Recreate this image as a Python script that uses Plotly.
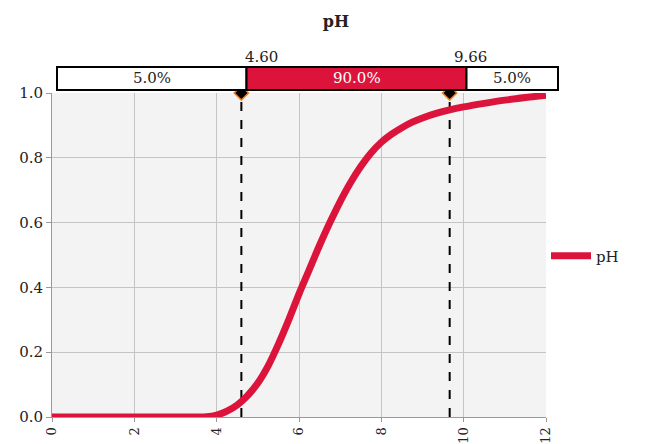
import plotly.graph_objects as go

# ---- data ----
ph_values = [0, 1, 2, 3, 3.75, 4.0, 4.25, 4.5, 4.75, 5.0, 5.25, 5.5, 5.75, 6.0,
             6.25, 6.5, 6.75, 7.0, 7.25, 7.5, 7.75, 8.0, 8.25, 8.5, 8.75, 9.0,
             9.33, 9.66, 10.0, 10.5, 11.0, 11.5, 12.0]
cum_prob = [0, 0, 0, 0, 0.001, 0.006, 0.018, 0.037, 0.066, 0.105, 0.158, 0.225,
            0.30, 0.38, 0.455, 0.53, 0.60, 0.665, 0.723, 0.773, 0.815, 0.848,
            0.873, 0.893, 0.91, 0.923, 0.937, 0.948, 0.957, 0.968, 0.978, 0.986,
            0.993]
delimiters = [4.60, 9.66]
band_pcts = [5.0, 90.0, 5.0]
x_ticks = [0, 2, 4, 6, 8, 10, 12]
y_ticks = [0.0, 0.2, 0.4, 0.6, 0.8, 1.0]

RED = "#DC143C"
FONT = "DejaVu Serif"
TXT = "#222222"

# ---- layout constants (pixels, reference coords) ----
OFF = 8  # page body margin
W, H = 647 - OFF, 444 - OFF
PL, PR, PT, PB = 52, 546, 93, 417
pw, ph = PR - PL, PB - PT
def px(xp):
    return (xp - PL) / pw
def py(yp):
    return (PB - yp) / ph

fig = go.Figure()

for d in delimiters:
    fig.add_trace(go.Scatter(x=[d, d], y=[0, 1], mode="lines",
                             line=dict(color="black", width=2, dash="dash"),
                             showlegend=False, hoverinfo="skip"))

fig.add_trace(go.Scatter(x=ph_values, y=cum_prob, mode="lines", name="pH",
                         line=dict(color=RED, width=7, shape="spline", smoothing=0.8)))

fig.add_trace(go.Scatter(x=delimiters, y=[1, 1], mode="markers",
                         marker=dict(symbol="diamond", size=11, color="black",
                                     line=dict(color="#F08020", width=1.5)),
                         showlegend=False, hoverinfo="skip", cliponaxis=False))

box_x = [57, 246.5, 466.5, 558]
by0, by1 = py(90), py(67)
fills = ["white", RED, "white"]
txtcol = [TXT, "white", TXT]
shapes = []
annotations = []
for i in range(3):
    x0, x1 = px(box_x[i]), px(box_x[i + 1])
    shapes.append(dict(type="rect", xref="paper", yref="paper", x0=x0, x1=x1,
                       y0=by0, y1=by1, fillcolor=fills[i],
                       line=dict(color="black", width=2), layer="above"))
    annotations.append(dict(xref="paper", yref="paper", x=(x0 + x1) / 2,
                            y=(by0 + by1) / 2, text=f"{band_pcts[i]:.1f}%",
                            showarrow=False, xanchor="center", yanchor="middle",
                            font=dict(family=FONT, size=15, color=txtcol[i])))
for d in delimiters:
    annotations.append(dict(xref="x", yref="paper", x=d, y=py(57),
                            text=f"{d:.2f}", showarrow=False, xanchor="left",
                            yanchor="middle", xshift=2,
                            font=dict(family=FONT, size=15, color=TXT)))

fig.update_layout(
    width=W, height=H,
    margin=dict(l=PL - OFF, r=647 - PR, t=PT - OFF, b=444 - PB, autoexpand=False),
    paper_bgcolor="white", plot_bgcolor="#f3f3f3",
    title=dict(text="<b>pH</b>", x=px(336), xref="paper", xanchor="center",
               y=1 - (21 - OFF) / H, yref="container", yanchor="middle",
               font=dict(family=FONT, size=16, color=TXT)),
    shapes=shapes, annotations=annotations,
    legend=dict(x=1.0, xanchor="left", y=py(256), yanchor="middle",
                font=dict(family=FONT, size=15, color=TXT),
                bgcolor="rgba(0,0,0,0)", itemwidth=40),
    font=dict(family=FONT, color=TXT),
)
fig.update_xaxes(range=[0, 12], tickvals=x_ticks, ticktext=[str(v) for v in x_ticks],
                 tickangle=-90, ticks="outside", ticklen=4, tickcolor="#999999",
                 showgrid=True, gridcolor="#c4c4c4", gridwidth=1,
                 showline=True, linecolor="#999999", linewidth=1,
                 zeroline=False, tickfont=dict(family=FONT, size=13, color=TXT))
fig.update_yaxes(range=[0, 1], tickvals=y_ticks, tickformat=".1f",
                 ticks="outside", ticklen=5, tickcolor="#999999",
                 showgrid=True, gridcolor="#c4c4c4", gridwidth=1,
                 showline=True, linecolor="#999999", linewidth=1,
                 zeroline=False, tickfont=dict(family=FONT, size=15, color=TXT))

fig.write_html("out.html")
